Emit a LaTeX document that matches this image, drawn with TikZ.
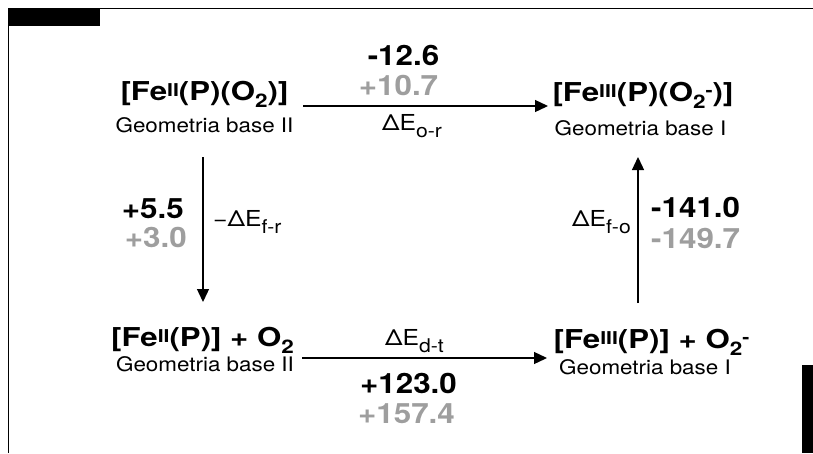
\documentclass[tikz,border=0pt]{standalone}
\usepackage{fontspec}
\setmainfont{TeX Gyre Heros}[FakeStretch=1.12]
\newfontfamily\wideheros{TeX Gyre Heros}[FakeStretch=1.2]
\usetikzlibrary{arrows.meta}
\definecolor{gry}{RGB}{158,158,158}
\newcommand\fsup[1]{\raisebox{3.5pt}{\scalebox{0.68}{#1}}}
\newcommand\fsub[1]{\raisebox{-7pt}{\scalebox{0.72}{#1}}}
\newcommand\fmin{\raisebox{5pt}{\scalebox{0.68}{-}}}
\newcommand\dsub[1]{\raisebox{-7.5pt}{\scalebox{0.86}{#1}}}
\tikzset{
  formula/.style={font=\wideheros\fontsize{26pt}{30pt}\selectfont\bfseries, anchor=base, inner sep=0pt},
  geo/.style={font=\fontsize{20pt}{24pt}\selectfont, anchor=base, inner sep=0pt},
  num/.style={font=\fontsize{28pt}{32pt}\selectfont\bfseries, inner sep=0pt},
  numg/.style={num, text=gry},
  lbl/.style={font=\fontsize{22pt}{26pt}\selectfont, inner sep=0pt},
  arr/.style={-{Triangle[length=13pt,width=12pt]}, line width=1.3pt},
  frame/.style={line width=1pt}
}
\begin{document}
\begin{tikzpicture}[x=1pt,y=-1pt]
\useasboundingbox (0,0) rectangle (813,453);
% frame
\draw[frame] (8,453) -- (8,8) -- (813,8);
\fill (8,8) rectangle (100,26);
\fill (802,365) rectangle (813,453);
% states
\node[formula] (fa) at (204.5,100) {[Fe\fsup{II}(P)(O\fsub{2})]};
\node[geo] (ga) at (204.5,132.5) {Geometria base II};
\node[formula] (fb) at (643,101) {[Fe\fsup{III}(P)(O\fsub{2}\fmin)]};
\node[geo] (gb) at (640.5,135) {Geometria base I};
\node[formula] (fc) at (202.5,346) {[Fe\fsup{II}(P)] + O\fsub{2}};
\node[geo] (gc) at (205,371) {Geometria base II};
\node[formula] (fd) at (651.5,348) {[Fe\fsup{III}(P)] + O\fsub{2}\fmin};
\node[geo] (gd) at (645,374) {Geometria base I};
% arrow end points
\coordinate (t1) at (303,106);
\coordinate (t2) at (548,106);
\coordinate (b1) at (302,358);
\coordinate (b2) at (547,358);
\coordinate (l1) at (203,157);
\coordinate (l2) at (203,302);
\coordinate (r1) at (638,303);
\coordinate (r2) at (638,157);
\draw[arr] (t1) -- (t2);
\draw[arr] (b1) -- (b2);
\draw[arr] (l1) -- (l2);
\draw[arr] (r1) -- (r2);
% top labels
\node[num, anchor=base] (n1) at (403.5,65) {-12.6};
\node[numg, anchor=base] (n2) at (398.5,95) {+10.7};
\node[lbl, anchor=base west] (e1) at (382,130) {ΔE\dsub{o-r}};
% left labels
\node[num, anchor=base east] (n3) at (184,218) {+5.5};
\node[numg, anchor=base east] (n4) at (187,247) {+3.0};
\node[lbl, anchor=base west] (e2) at (213,226) {−ΔE\dsub{f-r}};
% right labels
\node[lbl, anchor=base east] (e3) at (631,226) {ΔE\dsub{f-o}};
\node[num, anchor=base west] (n5) at (651,217) {-141.0};
\node[numg, anchor=base west] (n6) at (651,248) {-149.7};
% bottom labels
\node[lbl, anchor=base west] (e4) at (385,345) {ΔE\dsub{d-t}};
\node[num, anchor=base] (n7) at (408.5,393) {+123.0};
\node[numg, anchor=base] (n8) at (406.5,423) {+157.4};
\end{tikzpicture}
\end{document}
